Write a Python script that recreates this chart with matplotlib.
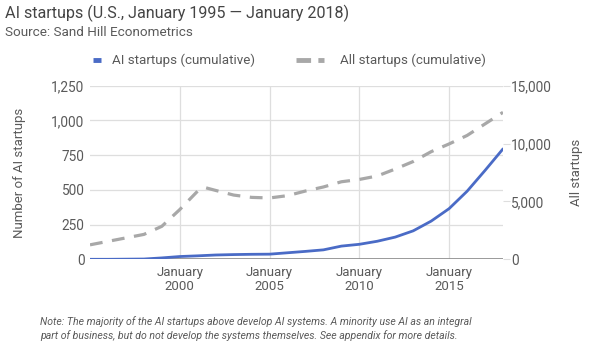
import matplotlib
matplotlib.use("Agg")
import matplotlib.pyplot as plt
from matplotlib.lines import Line2D

plt.rcParams['font.family'] = ['Roboto', 'DejaVu Sans']

# Data
ai_years = [1995, 1996, 1997, 1998, 1999, 2000, 2001, 2002, 2003, 2004, 2005, 2006,
            2007, 2008, 2009, 2010, 2011, 2012, 2013, 2014, 2015, 2016, 2017, 2018]
ai_values = [0, 0, 1, 2, 10, 20, 25, 31, 34, 36, 37, 47,
             57, 68, 95, 108, 130, 160, 205, 275, 365, 490, 640, 795]

all_years = [1995, 1996, 1997, 1998, 1999, 2000, 2001, 2001.4, 2002, 2003, 2004, 2005,
             2006, 2007, 2008, 2009, 2010, 2011, 2012, 2013, 2014, 2015, 2016, 2017, 2018]
all_values = [1250, 1550, 1850, 2150, 2850, 4300, 5900, 6200, 5950, 5550, 5350, 5300,
              5500, 5900, 6250, 6700, 6900, 7200, 7800, 8450, 9300, 9970, 10700, 11700, 12700]

x_ticks = [2000, 2005, 2010, 2015]
x_tick_labels = ["January\n2000", "January\n2005", "January\n2010", "January\n2015"]
left_ticks = [0, 250, 500, 750, 1000, 1250]
right_ticks = [0, 5000, 10000, 15000]
series_names = ["AI startups (cumulative)", "All startups (cumulative)"]

title = "AI startups (U.S., January 1995 — January 2018)"
subtitle = "Source: Sand Hill Econometrics"
note = ("Note: The majority of the AI startups above develop AI systems. A minority use AI as an integral\n"
        "part of business, but do not develop the systems themselves. See appendix for more details.")

blue = "#4a6bc6"
gray = "#a8a8a8"
text_col = "#5a5a5a"
grid_col = "#dedede"

fig = plt.figure(figsize=(6, 3.6), dpi=100)
W, H = 600, 360
l, r, t, b = 90, 503, 85.7, 259.3
ax = fig.add_axes([l / W, 1 - b / H, (r - l) / W, (b - t) / H])
ax2 = ax.twinx()

ax.plot(ai_years, ai_values, color=blue, lw=2, zorder=3, solid_capstyle='round')
ax2.plot(all_years, all_values, color=gray, lw=2.3, dashes=(4, 3), zorder=3)

ax.set_xlim(1995, 2018)
ax.set_ylim(0, 1250)
ax2.set_ylim(0, 15000)

ax.set_xticks(x_ticks)
ax.set_xticklabels(x_tick_labels, fontsize=9.5, color=text_col, linespacing=1.1)
ax.set_yticks(left_ticks)
ax.set_yticklabels([f"{v:,}" for v in left_ticks], fontsize=9.8, color=text_col)
ax2.set_yticks(right_ticks)
ax2.set_yticklabels([f"{v:,}" for v in right_ticks], fontsize=9.8, color=text_col)

ax.grid(True, color=grid_col, lw=0.9)
ax.set_axisbelow(True)
for a in (ax, ax2):
    for s in a.spines.values():
        s.set_visible(False)
ax.tick_params(axis='y', length=0, pad=4)
ax.tick_params(axis='x', length=0, pad=5)
ax2.tick_params(axis='y', length=5, color=grid_col, pad=1)
ax.axhline(0, color="#8a8a8a", lw=1.2, zorder=2)

ax.set_ylabel("Number of AI startups", fontsize=9.5, color=text_col, labelpad=18)
ax2.set_ylabel("All startups", fontsize=9.5, color=text_col, labelpad=13)

fig.text(5 / W, 1 - 13 / H, title, fontsize=11.6, color="#444444", va='center', ha='left')
fig.text(5 / W, 1 - 32 / H, subtitle, fontsize=9.7, color=text_col, va='center', ha='left')

# legend (drawn manually to match handle sizes)
ly = 1 - 60 / H
fig.add_artist(Line2D([93 / W, 101 / W], [ly, ly], color=blue, lw=3.5,
                      solid_capstyle='butt', transform=fig.transFigure))
fig.text(112 / W, ly, series_names[0], fontsize=9.6, color=text_col, va='center', ha='left')
fig.add_artist(Line2D([296 / W, 324 / W], [ly, ly], color=gray, lw=3.5,
                      dashes=(3.0, 1.5), transform=fig.transFigure))
fig.text(340 / W, ly, series_names[1], fontsize=9.6, color=text_col, va='center', ha='left')

fig.text(40 / W, 1 - 329 / H, note, fontsize=7.6, color=text_col, style='italic',
         va='center', ha='left', linespacing=1.35)

fig.savefig("out.png", dpi=100)
